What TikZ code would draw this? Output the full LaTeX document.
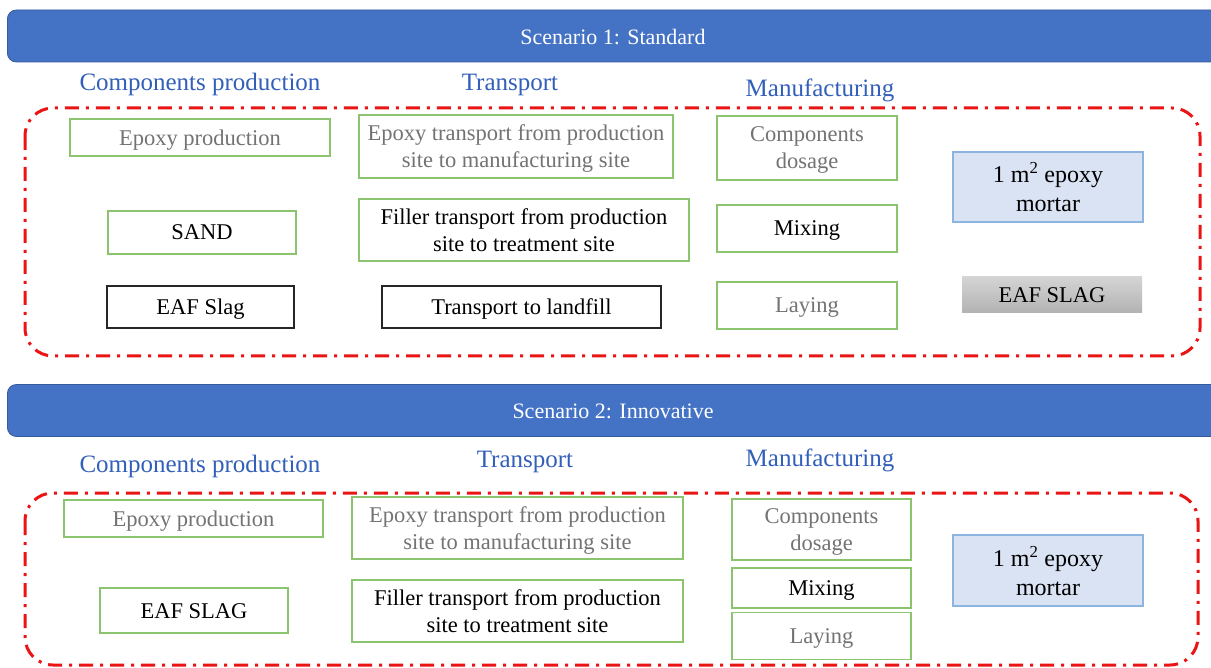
\documentclass[tikz,border=0pt]{standalone}
\usepackage{fontspec}
\setmainfont{Liberation Serif}
\definecolor{hdrblue}{RGB}{68,114,196}
\definecolor{ttlblue}{RGB}{50,95,185}
\definecolor{boxgreen}{RGB}{140,195,110}
\definecolor{txtgray}{RGB}{115,115,115}
\definecolor{redline}{RGB}{235,20,20}
\definecolor{mortarfill}{RGB}{218,227,243}
\definecolor{mortardraw}{RGB}{140,180,225}
\begin{document}
\begin{tikzpicture}[x=1pt,y=-1pt,
  hdr/.style={rectangle, rounded corners=9pt, fill=hdrblue, draw=hdrblue!80!black, line width=0.8pt, minimum height=52pt},
  hdrtxt/.style={text=white, font=\fontsize{22}{26}\selectfont, inner sep=0pt},
  ttl/.style={text=ttlblue, font=\fontsize{25}{29}\selectfont, inner sep=0pt},
  gbox/.style={rectangle, draw=boxgreen, line width=1.6pt, align=center, inner sep=0pt, text depth=0pt, font=\fontsize{22.5}{27}\selectfont},
  kbox/.style={rectangle, draw=black!85, line width=1.6pt, align=center, inner sep=0pt, text depth=0pt, font=\fontsize{22.5}{27}\selectfont},
  gtxt/.style={text=txtgray},
  mortar/.style={rectangle, fill=mortarfill, draw=mortardraw, line width=1.6pt, align=center, inner sep=0pt, text depth=0pt, font=\fontsize{24}{29}\selectfont},
  slag/.style={rectangle, top color=black!17, bottom color=black!30, draw=none, align=center, inner sep=0pt, font=\fontsize{22.5}{27}\selectfont},
  redbox/.style={draw=redline, line width=3pt, dash pattern=on 14pt off 7pt on 3pt off 7pt, rounded corners=28pt}
]
\useasboundingbox (0,0) rectangle (1211,668);
\fill[white] (0,0) rectangle (1211,668);

% ---------- Scenario 1 ----------
\node[hdr, minimum width=1220pt, anchor=west] (h1) at (7,36) {};
\node[hdrtxt] (h1t) at (613,37) {Scenario 1: Standard};

\node[ttl] (t1a) at (200,84) {Components production};
\node[ttl] (t1b) at (510,85) {Transport};
\node[ttl] (t1c) at (820,90) {Manufacturing};

\draw[redbox] (25,108) rectangle (1200,356);

\node[gbox, gtxt, minimum width=260pt, minimum height=37pt] (a1) at (200,137.5) {Epoxy production};
\node[gbox, gtxt, minimum width=314pt, minimum height=63pt] (a2) at (516,146.5) {Epoxy transport from production\\site to manufacturing site};
\node[gbox, gtxt, minimum width=180pt, minimum height=64pt] (a3) at (807,148) {Components\\dosage};
\node[mortar, minimum width=190pt, minimum height=70pt] (a4) at (1048,187) {1 m\textsuperscript{2} epoxy\\mortar};

\node[gbox, minimum width=188pt, minimum height=43pt] (b1) at (202,232.5) {SAND};
\node[gbox, minimum width=330pt, minimum height=62pt] (b2) at (524,230) {Filler transport from production\\site to treatment site};
\node[gbox, minimum width=180pt, minimum height=47pt] (b3) at (807,228.5) {Mixing};

\node[kbox, minimum width=187pt, minimum height=42pt] (c1) at (200.5,307) {EAF Slag};
\node[kbox, minimum width=279pt, minimum height=42pt] (c2) at (521.5,307) {Transport to landfill};
\node[gbox, gtxt, minimum width=180pt, minimum height=47pt] (c3) at (807,305.5) {Laying};
\node[slag, minimum width=180pt, minimum height=36pt] (c4) at (1052,295) {\raisebox{-2pt}{EAF SLAG}};

% ---------- Scenario 2 ----------
\node[hdr, minimum width=1220pt, anchor=west] (h2) at (7,410.5) {};
\node[hdrtxt] (h2t) at (613,411) {Scenario 2: Innovative};

\node[ttl] (t2a) at (200,466) {Components production};
\node[ttl] (t2b) at (525,462) {Transport};
\node[ttl] (t2c) at (820,460) {Manufacturing};

\draw[redbox] (25,493) rectangle (1198,665);

\node[gbox, gtxt, minimum width=259pt, minimum height=37pt] (d1) at (193.5,518.5) {Epoxy production};
\node[gbox, gtxt, minimum width=331pt, minimum height=62pt] (d2) at (517.5,528) {Epoxy transport from production\\site to manufacturing site};
\node[gbox, gtxt, minimum width=179pt, minimum height=61pt] (d3) at (821.5,529.5) {Components\\dosage};
\node[gbox, minimum width=179pt, minimum height=40pt] (d4) at (821.5,588) {Mixing};
\node[gbox, gtxt, minimum width=179pt, minimum height=47pt] (d5) at (821.5,636) {Laying};
\node[mortar, minimum width=190pt, minimum height=71pt] (d6) at (1048,570.5) {1 m\textsuperscript{2} epoxy\\mortar};

\node[gbox, minimum width=188pt, minimum height=45pt] (e1) at (194,610.5) {\raisebox{-2pt}{EAF SLAG}};
\node[gbox, minimum width=331pt, minimum height=62pt] (e2) at (517.5,611) {Filler transport from production\\site to treatment site};
\end{tikzpicture}
\end{document}
